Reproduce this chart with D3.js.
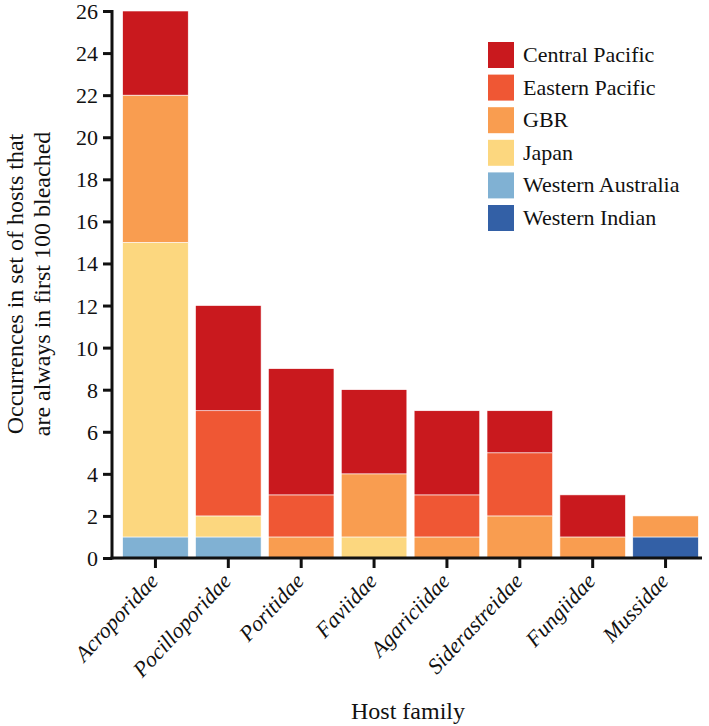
<!DOCTYPE html>
<html><head><meta charset="utf-8">
<script src="https://cdn.jsdelivr.net/npm/d3@7"></script>
</head><body style="margin:0;background:#fff"><svg id="c" width="709" height="726" style="display:block"></svg>
<script>
const families = ["Acroporidae","Pocilloporidae","Poritidae","Faviidae","Agariciidae","Siderastreidae","Fungiidae","Mussidae"];
const regions = ["Western Indian","Western Australia","Japan","GBR","Eastern Pacific","Central Pacific"];
const westernIndian    = [0,0,0,0,0,0,0,1];
const westernAustralia = [1,1,0,0,0,0,0,0];
const japan            = [14,1,0,1,0,0,0,0];
const gbr              = [7,0,1,3,1,2,1,1];
const easternPacific   = [0,5,2,0,2,3,0,0];
const centralPacific   = [4,5,6,4,4,2,2,0];
const yTicks = [0,2,4,6,8,10,12,14,16,18,20,22,24,26];
const colors = ["#3360A6","#80B1D3","#FCD77F","#F99D50","#EF5734","#C9191E"];

const seriesVals = [westernIndian,westernAustralia,japan,gbr,easternPacific,centralPacific];
const rows = families.map((f,i)=>{const o={family:f};regions.forEach((r,j)=>o[r]=seriesVals[j][i]);return o;});
const stack = d3.stack().keys(regions)(rows);

function serif(sel){ sel.attr("font-family","Liberation Serif").style("font-family",()=>`"Liberation Serif"`,"important"); return sel; }

const svg = d3.select("#c");
const x = d3.scaleBand().domain(families).range([119,702]).paddingInner(0.1).paddingOuter(0.05);
const y = d3.scaleLinear().domain([0,26]).range([558,11]);
const color = d3.scaleOrdinal().domain(regions).range(colors);

svg.append("g").selectAll("g").data(stack).join("g").attr("fill",d=>color(d.key))
  .selectAll("rect").data(d=>d.filter(s=>s[1]-s[0]>0)).join("rect")
  .attr("x",d=>x(d.data.family)).attr("width",x.bandwidth())
  .attr("y",d=>y(d[1])).attr("height",d=>y(d[0])-y(d[1]))
  .attr("stroke","#fff").attr("stroke-width",0.6);

const yAxis = svg.append("g").attr("transform","translate(112,0)")
  .call(d3.axisLeft(y).tickValues(yTicks).tickSize(9).tickPadding(5).tickSizeOuter(0));
serif(yAxis).attr("font-size",null);
yAxis.select(".domain").attr("stroke","#111").attr("stroke-width",3).attr("d","M0,"+(y(26)-1)+"V"+(y(0)+1.5));
yAxis.selectAll(".tick line").attr("stroke","#111").attr("stroke-width",3);
serif(yAxis.selectAll(".tick text")).style("font-size","22px").attr("fill","#111").attr("dy","0.34em");

const xAxis = svg.append("g").attr("transform","translate(0,558)")
  .call(d3.axisBottom(x).tickSize(10).tickSizeOuter(0));
serif(xAxis).attr("font-size",null);
xAxis.select(".domain").attr("stroke","#111").attr("stroke-width",3).attr("d","M110.5,0H702");
xAxis.selectAll(".tick line").attr("stroke","#111").attr("stroke-width",3);
serif(xAxis.selectAll(".tick text")).style("font-size","22px").style("font-style","italic").attr("fill","#111")
  .attr("text-anchor","end").attr("dy","0").attr("y",0)
  .attr("transform","translate(4,24) rotate(-47)");

serif(svg.append("text")).attr("x",408).attr("y",719).attr("text-anchor","middle").style("font-size","24px").attr("fill","#111").text("Host family");
const yt = serif(svg.append("text")).attr("transform","translate(23,284) rotate(-90)").attr("text-anchor","middle").style("font-size","24px").attr("fill","#111");
yt.append("tspan").attr("x",0).attr("dy",0).text("Occurrences in set of hosts that");
yt.append("tspan").attr("x",0).attr("dy",27).text("are always in first 100 bleached");

const legendKeys = regions.slice().reverse();
const lg = svg.append("g").attr("transform","translate(488,42)");
const li = lg.selectAll("g").data(legendKeys).join("g").attr("transform",(d,i)=>`translate(0,${i*32.6})`);
li.append("rect").attr("width",26).attr("height",26).attr("fill",d=>color(d));
serif(li.append("text")).attr("x",35).attr("y",20).style("font-size","22px").attr("fill","#111").text(d=>d);
</script></body></html>
